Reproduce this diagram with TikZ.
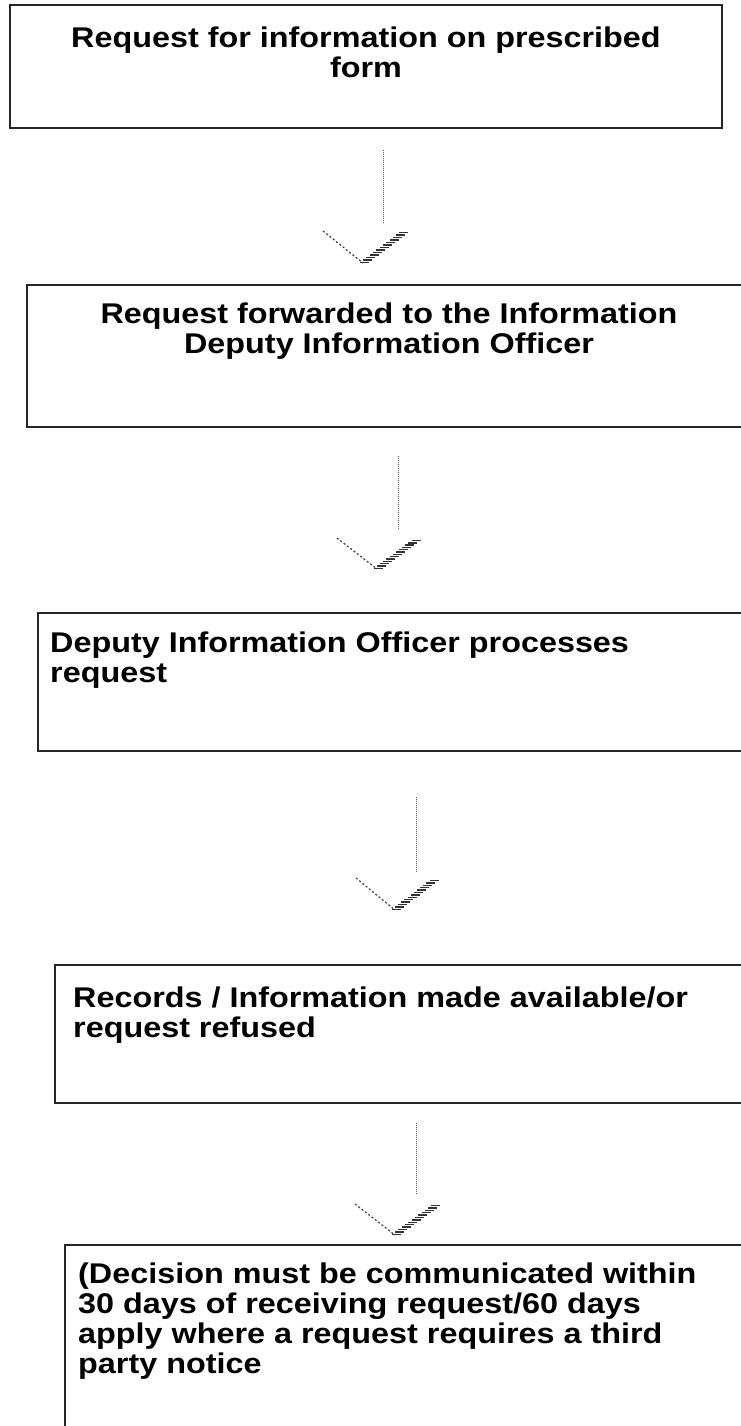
\documentclass[tikz,border=0pt]{standalone}
\usepackage{fontspec}
\newfontfamily\boxfont{Liberation Sans}[FakeStretch=1.135]
\usetikzlibrary{calc}
\begin{document}
\begin{tikzpicture}[x=1pt,y=-1pt,
  box/.style={draw=black!85, line width=1.5pt, inner sep=0pt, fill=none},
  txt/.style={inner sep=0pt, font=\boxfont\bfseries\fontsize{28.5}{30.2}\selectfont},
  vline/.style={draw=black!65, line width=1pt, dash pattern=on 1pt off 1pt},
  lleg/.style={draw=black!75, line width=1.2pt, dash pattern=on 2pt off 2.2pt},
  stripe/.style={draw=black!80, line width=1.4pt}
]
\useasboundingbox (0,0) rectangle (741,1426);
\fill[white] (0,0) rectangle (741,1426);

% boxes
\node[box, minimum width=712pt, minimum height=123pt] (b1) at (366,66.5) {};
\node[box, minimum width=725pt, minimum height=142pt] (b2) at (389.5,356) {};
\node[box, minimum width=714pt, minimum height=138pt] (b3) at (395,682) {};
\node[box, minimum width=697pt, minimum height=138pt] (b4) at (403.5,1034) {};
\node[box, minimum width=687pt, minimum height=195pt] (b5) at (408.5,1342.5) {};

% texts
\node[txt, anchor=north, align=center] (t1) at (366,26.3) {Request for information on prescribed\\form};
\node[txt, anchor=north, align=center] (t2) at (389,302.3) {Request forwarded to the Information\\Deputy Information Officer};
\node[txt, anchor=north west, align=left] (t3) at (50,631.3) {Deputy Information Officer processes\\request};
\node[txt, anchor=north west, align=left] (t4) at (73,986.3) {Records / Information made available/or\\request refused};
\node[txt, anchor=north west, align=left] (t5) at (78,1262.3) {(Decision must be communicated within\\30 days of receiving request/60 days\\apply where a request requires a third\\party notice};

% arrows
\foreach \i/\vx/\vt/\vb/\lx/\ly/\tx/\ty/\rx/\ry in {
  1/383/150/223/323/231/363/263/407/230,
  2/398/456/530/337/538/377/569/419/538,
  3/416/797/872/356/878/395/910/437/878,
  4/416/1123/1195/355/1204/395/1235/439/1203}{
  \coordinate (v\i a) at (\vx,\vt);
  \coordinate (v\i b) at (\vx,\vb);
  \coordinate (c\i l) at (\lx,\ly);
  \coordinate (c\i t) at (\tx,\ty);
  \coordinate (c\i r) at (\rx,\ry);
  \draw[vline] (v\i a) -- (v\i b);
  \draw[lleg] (c\i l) -- (c\i t);
  \foreach \s in {0.02,0.095,...,0.99}{
    \draw[stripe] ($(c\i t)!\s!(c\i r)+(-4,0)$) -- ++(9,0);
  }
}
\end{tikzpicture}
\end{document}
